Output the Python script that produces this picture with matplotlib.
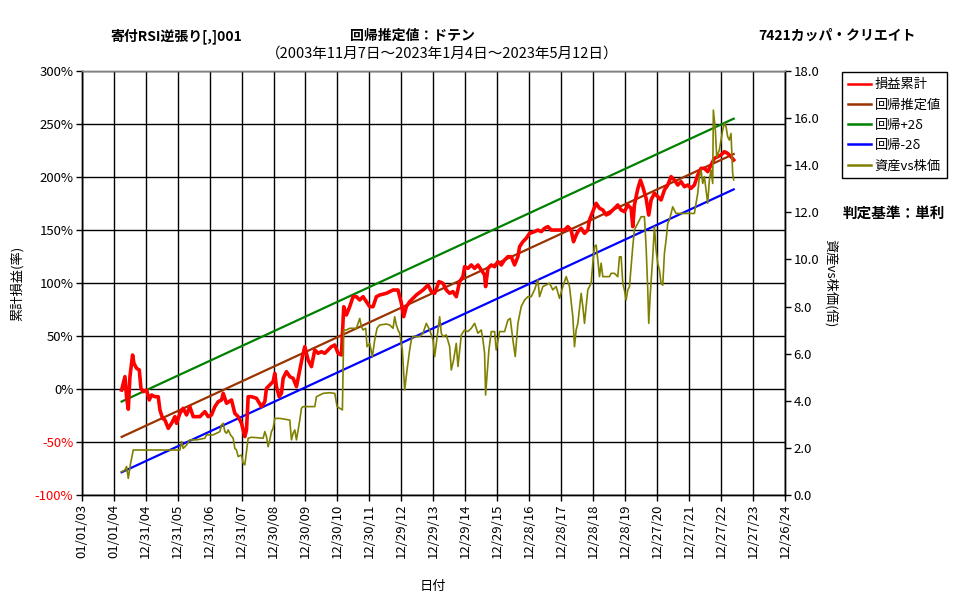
import matplotlib
matplotlib.use("Agg")
import matplotlib.pyplot as plt
import numpy as np

plt.rcParams['font.family'] = ['Noto Sans CJK JP', 'DejaVu Sans']

# ---------------- data ----------------
tick_labels = ["01/01/03", "01/01/04", "12/31/04", "12/31/05", "12/31/06", "12/31/07",
               "12/30/08", "12/30/09", "12/30/10", "12/30/11", "12/29/12", "12/29/13",
               "12/29/14", "12/29/15", "12/28/16", "12/28/17", "12/28/18", "12/28/19",
               "12/27/20", "12/27/21", "12/27/22", "12/27/23", "12/26/24"]

# cumulative profit (%), time in years (365-day years from 2003-01-01)
pl_t = [2004.249, 2004.353, 2004.405, 2004.457, 2004.509, 2004.592, 2004.634, 2004.717, 2004.801,
        2004.853, 2004.926, 2005.030, 2005.113, 2005.186, 2005.290, 2005.394, 2005.447, 2005.530,
        2005.603, 2005.707, 2005.811, 2005.915, 2005.967, 2006.072, 2006.176, 2006.280, 2006.384,
        2006.488, 2006.592, 2006.697, 2006.853, 2006.957, 2007.061, 2007.165, 2007.270, 2007.374,
        2007.426, 2007.530, 2007.686, 2007.790, 2007.895, 2007.999, 2008.103, 2008.155, 2008.207,
        2008.311, 2008.467, 2008.624, 2008.728, 2008.780, 2008.884, 2008.988, 2009.040, 2009.092,
        2009.176, 2009.249, 2009.301, 2009.405, 2009.509,
        2009.614, 2009.718, 2009.822, 2009.905, 2009.978, 2010.082, 2010.187, 2010.291, 2010.395,
        2010.499, 2010.603, 2010.707, 2010.811, 2010.916, 2011.020, 2011.124, 2011.197, 2011.280,
        2011.384, 2011.489, 2011.593, 2011.697, 2011.801, 2011.905, 2012.010, 2012.114, 2012.218,
        2012.322, 2012.530, 2012.739, 2012.895, 2012.999, 2013.072, 2013.155, 2013.259, 2013.364,
        2013.468, 2013.676, 2013.833, 2013.937, 2014.041, 2014.176, 2014.301, 2014.405,
        2014.509, 2014.613, 2014.717, 2014.822, 2014.926, 2014.978, 2015.082, 2015.186, 2015.290,
        2015.394, 2015.499, 2015.603, 2015.634, 2015.707, 2015.811, 2015.915, 2016.020, 2016.124,
        2016.228, 2016.332, 2016.436, 2016.540, 2016.645, 2016.697, 2016.801, 2016.905, 2017.009,
        2017.165, 2017.270, 2017.374, 2017.478, 2017.582, 2017.686, 2017.790, 2017.947, 2018.103,
        2018.207, 2018.311, 2018.384, 2018.447, 2018.520, 2018.624, 2018.728, 2018.832, 2018.884,
        2018.988, 2019.092, 2019.197, 2019.301, 2019.405,
        2019.509, 2019.665, 2019.769, 2019.874, 2019.978, 2020.082, 2020.186, 2020.238, 2020.290,
        2020.394, 2020.478, 2020.551, 2020.655, 2020.738, 2020.811, 2020.915, 2021.020, 2021.124,
        2021.228, 2021.332, 2021.436, 2021.540, 2021.645, 2021.749, 2021.853, 2021.957, 2022.061,
        2022.165, 2022.270, 2022.374, 2022.478, 2022.582, 2022.686, 2022.790, 2022.895, 2022.999,
        2023.103, 2023.207, 2023.311, 2023.395]
pl_v = [-0.8, 11.8, -7.9, -18.9, 11.8, 32.2, 24.3, 19.6, 18.1,
        0.8, -2.4, -0.8, -10.2, -5.5, -7.1, -7.1, -19.6, -27.5,
        -29.0, -36.9, -32.2, -25.9, -32.2, -22.8, -18.0, -24.3, -16.5,
        -25.9, -25.9, -25.9, -21.2, -25.9, -24.3, -16.5, -11.8, -10.2,
        -3.9, -13.3, -10.2, -22.8, -25.9, -32.2, -44.7, -38.5, -7.1,
        -7.1, -8.6, -16.5, -11.8, 0.8, 3.9, 7.1, 14.9, 2.4,
        -7.1, -3.9, 10.2, 16.5, 11.8,
        10.2, 2.4, 18.1, 30.6, 40.0, 27.5, 21.2, 36.9, 33.8,
        35.3, 33.8, 36.9, 40.0, 41.6, 33.8, 32.2, 77.7, 69.9,
        77.7, 87.1, 87.1, 84.0, 87.1, 82.4, 77.7, 77.7, 87.1,
        88.7, 90.3, 93.4, 93.4, 80.9, 68.3, 77.7, 82.4, 85.6,
        88.7, 93.4, 98.1, 91.9, 90.3, 101.3, 99.7, 93.4,
        90.3, 91.9, 87.1, 101.3, 106.0, 115.4, 113.8, 117.0, 113.8,
        117.0, 112.3, 107.6, 96.6, 113.8, 117.0, 115.4, 120.1, 117.0,
        121.7, 124.8, 124.8, 117.0, 124.8, 134.2, 138.9, 142.1, 146.8,
        148.4, 149.9, 148.4, 151.5, 153.1, 149.9, 149.9, 149.9, 149.9,
        153.1, 149.9, 138.9, 143.7, 148.4, 151.5, 146.8, 149.9, 159.4,
        167.2, 175.1, 170.4, 168.8, 164.1,
        165.6, 170.3, 173.5, 168.8, 167.2, 173.5, 170.3, 153.1, 173.5,
        188.6, 197.0, 190.7, 179.7, 164.0, 178.2, 184.5, 181.3, 178.2,
        187.6, 192.3, 200.2, 197.0, 192.3, 195.5, 190.7, 192.3, 189.2,
        192.3, 201.7, 208.0, 208.0, 204.9, 211.2, 217.4, 219.0, 220.6,
        223.7, 222.1, 219.0, 215.9]

# asset vs stock price ratio (right axis)
px_t = [2004.249, 2004.353, 2004.405, 2004.457, 2004.530, 2004.613, 2004.926, 2005.447, 2006.072,
        2006.124, 2006.176, 2006.228, 2006.280, 2006.384, 2006.592, 2006.853, 2006.905, 2007.113,
        2007.217, 2007.322, 2007.374, 2007.426, 2007.478, 2007.530, 2007.582, 2007.655, 2007.738,
        2007.790, 2007.842, 2007.895, 2007.999, 2008.051, 2008.103, 2008.155, 2008.207, 2008.311,
        2008.676, 2008.728, 2008.780, 2008.832, 2008.884, 2008.936, 2008.988, 2009.040, 2009.197,
        2009.509, 2009.561, 2009.614, 2009.666, 2009.718, 2009.770, 2009.822, 2009.874, 2009.926,
        2010.291, 2010.343, 2010.551, 2010.759, 2010.916, 2010.989, 2011.072, 2011.155, 2011.197,
        2011.280, 2011.384, 2011.593, 2011.697, 2011.749, 2011.801, 2011.884, 2011.926, 2012.010,
        2012.093, 2012.166, 2012.239, 2012.322, 2012.530, 2012.634, 2012.739, 2012.791, 2012.843,
        2012.895, 2012.947, 2013.030, 2013.103, 2013.176, 2013.259, 2013.311, 2013.364, 2013.572,
        2013.676, 2013.780, 2013.884, 2013.989, 2014.041, 2014.093, 2014.197, 2014.249, 2014.301,
        2014.405, 2014.510,
        2014.561, 2014.634, 2014.717, 2014.770, 2014.874, 2014.978, 2015.082, 2015.186, 2015.290,
        2015.394, 2015.499, 2015.551, 2015.603, 2015.634, 2015.676, 2015.738, 2015.811, 2015.915,
        2015.967, 2016.072, 2016.228, 2016.332, 2016.405, 2016.488, 2016.561, 2016.645, 2016.749,
        2016.853, 2016.957, 2017.061, 2017.165, 2017.270, 2017.322, 2017.426, 2017.530, 2017.634,
        2017.738, 2017.842, 2017.947, 2018.051, 2018.155, 2018.259, 2018.363, 2018.415, 2018.467,
        2018.520, 2018.624, 2018.676, 2018.728, 2018.832, 2018.936, 2018.988, 2019.040, 2019.092,
        2019.145, 2019.197, 2019.249, 2019.301, 2019.405, 2019.509,
        2019.561, 2019.665, 2019.769, 2019.822, 2019.874, 2019.926, 2019.978, 2020.030, 2020.082,
        2020.134, 2020.186, 2020.238, 2020.290, 2020.394, 2020.499, 2020.603, 2020.655, 2020.707,
        2020.738, 2020.780, 2020.863, 2020.915, 2020.967, 2021.020, 2021.072, 2021.124, 2021.176,
        2021.228, 2021.280, 2021.332, 2021.384, 2021.436, 2021.488, 2021.592, 2022.165, 2022.218,
        2022.270, 2022.322, 2022.374, 2022.426, 2022.478, 2022.530, 2022.582, 2022.634, 2022.686,
        2022.738, 2022.759, 2022.822, 2022.863, 2022.947, 2023.051, 2023.103, 2023.155, 2023.207,
        2023.259, 2023.311, 2023.363, 2023.395]
px_v = [1.00, 1.07, 1.22, 0.72, 1.36, 1.92, 1.92, 1.92, 1.92,
        2.28, 1.99, 2.06, 2.13, 2.35, 2.35, 2.42, 2.56, 2.56,
        2.63, 2.70, 2.98, 3.05, 2.70, 2.63, 2.77, 2.56, 2.42,
        1.99, 1.92, 1.64, 1.71, 1.36, 1.29, 1.85, 2.42, 2.46,
        2.42, 2.70, 2.49, 2.06, 2.35, 2.70, 2.84, 3.26, 3.26,
        3.19, 2.35, 2.63, 2.77, 2.35, 2.77, 3.19, 3.69, 3.76,
        3.76, 4.18, 4.32, 4.35, 4.32, 3.76, 3.69, 3.62, 7.01,
        7.01, 7.08, 7.08, 7.50, 7.15, 7.01, 7.08, 6.30, 6.44,
        5.88, 6.59, 7.08, 7.22, 7.26, 7.22, 7.08, 7.57, 7.22,
        7.01, 6.87, 6.16, 4.47, 5.31, 6.16, 6.59, 6.73, 6.73,
        6.87, 7.29, 7.01, 6.59, 5.88, 6.44, 7.57, 6.87, 6.73,
        6.80, 6.30,
        5.31, 5.74, 6.44, 5.46, 6.80, 7.01, 6.94, 7.08, 7.29,
        6.87, 7.01, 6.59, 6.02, 4.25, 5.03, 6.16, 6.94, 6.94,
        6.16, 6.94, 6.94, 7.43, 7.50, 6.59, 5.88, 7.29, 8.00,
        8.28, 8.42, 8.42, 8.71, 9.13, 8.42, 8.85, 8.92, 8.99,
        8.71, 8.85, 8.35, 8.85, 9.27, 8.85, 7.57, 6.30, 7.01,
        7.29, 8.56, 8.00, 7.29, 8.71, 8.99, 9.84, 10.54, 10.61,
        9.98, 9.27, 9.84, 9.27, 9.27, 9.27,
        9.41, 9.41, 9.27, 10.11, 10.11, 8.98, 8.70, 8.28, 8.70,
        8.84, 9.69, 10.54, 11.25, 11.53, 11.81, 11.81, 10.54, 8.70,
        7.29, 8.42, 10.11, 11.39, 10.40, 9.83, 9.55, 8.98, 8.91,
        10.26, 10.82, 11.53, 11.67, 11.95, 12.23, 11.95, 11.95, 12.38,
        12.80, 13.51, 13.79, 13.22, 13.51, 12.94, 12.38, 13.36, 13.79,
        13.22, 16.33, 15.48, 14.35, 14.64, 15.48, 15.77, 15.63, 15.20,
        15.06, 15.34, 13.65, 13.37]

# regression line (start / end value, %) and 2-sigma band
reg_t = [2004.249, 2023.395]
reg_v = [-45.0, 221.5]
two_sigma = 33.3

legend_labels = ["損益累計", "回帰推定値", "回帰+2δ", "回帰-2δ", "資産vs株価"]

# ---------------- plot ----------------
def to_days(t):
    return (np.asarray(t) - 2003.0) * 365.0

W, H = 977, 600
fig = plt.figure(figsize=(W / 100, H / 100), dpi=100)
ax = fig.add_axes([81.7 / W, 1 - 495.3 / H, (785 - 81.7) / W, (495.3 - 70.7) / H])
ax2 = ax.twinx()

xt = np.arange(len(tick_labels)) * 365.0
ax.set_xlim(xt[0], xt[-1])
ax.set_xticks(xt)
ax.set_xticklabels(tick_labels, rotation=90, fontsize=9.5)

ax.set_ylim(-100, 300)
yt = np.arange(-100, 301, 50)
ax.set_yticks(yt)
ax.set_yticklabels([f"{v}%" for v in yt], fontsize=9.5)
for lab, v in zip(ax.get_yticklabels(), yt):
    if v < 0:
        lab.set_color("#FF0000")

ax2.set_ylim(0, 18)
ax2.set_yticks(np.arange(0, 18.1, 2))
ax2.set_yticklabels([f"{v:.1f}" for v in np.arange(0, 18.1, 2)], fontsize=9.5)

ax.grid(True, color="black", linewidth=1.0)
ax.set_axisbelow(True)
for a in (ax, ax2):
    a.tick_params(direction="out", length=4, width=1, color="black", pad=2)
    for s in a.spines.values():
        s.set_color("black")
        s.set_linewidth(1.0)
    a.spines["top"].set_color("#808080")

rt = to_days(reg_t)
l_pl, = ax.plot(to_days(pl_t), pl_v, color="#FF0000", lw=2.6, zorder=4, label=legend_labels[0])
l_reg, = ax.plot(rt, reg_v, color="#993300", lw=1.6, zorder=3, label=legend_labels[1])
l_up, = ax.plot(rt, np.array(reg_v) + two_sigma, color="#008000", lw=1.6, zorder=3, label=legend_labels[2])
l_dn, = ax.plot(rt, np.array(reg_v) - two_sigma, color="#0000FF", lw=1.6, zorder=3, label=legend_labels[3])
l_px, = ax2.plot(to_days(px_t), px_v, color="#808000", lw=1.2, zorder=2, label=legend_labels[4])

ax.set_ylabel("累計損益(率)", fontsize=9.5, labelpad=8)
ax.set_xlabel("日付", fontsize=9.5, labelpad=16)
ax2.set_ylabel("資産vs株価(倍)", fontsize=9.5, rotation=270, labelpad=13)

leg = fig.legend([l_pl, l_reg, l_up, l_dn, l_px], legend_labels,
                 loc="upper left", bbox_to_anchor=(841.7 / W, 1 - 72.3 / H),
                 bbox_transform=fig.transFigure, fontsize=9.5, frameon=True,
                 fancybox=False, edgecolor="black", framealpha=1,
                 handlelength=1.8, borderaxespad=0, labelspacing=0.55,
                 borderpad=0.45, handletextpad=0.25)
leg.get_frame().set_linewidth(1.0)
for h in leg.get_lines():
    h.set_linewidth(1.8)

fig.text(110 / W, 1 - 36 / H, "寄付RSI逆張り[,]001", fontsize=10, fontweight="bold", va="center", ha="left")
fig.text(412 / W, 1 - 36 / H, "回帰推定値：ドテン", fontsize=10, fontweight="bold", va="center", ha="center")
fig.text(442 / W, 1 - 54 / H, "（2003年11月7日～2023年1月4日～2023年5月12日）", fontsize=10.5, va="center", ha="center")
fig.text(916 / W, 1 - 36 / H, "7421カッパ・クリエイト", fontsize=10, fontweight="bold", va="center", ha="right")
fig.text(843 / W, 1 - 213 / H, "判定基準：単利", fontsize=10.5, fontweight="bold", va="center", ha="left")

fig.savefig("out.png", dpi=100)
